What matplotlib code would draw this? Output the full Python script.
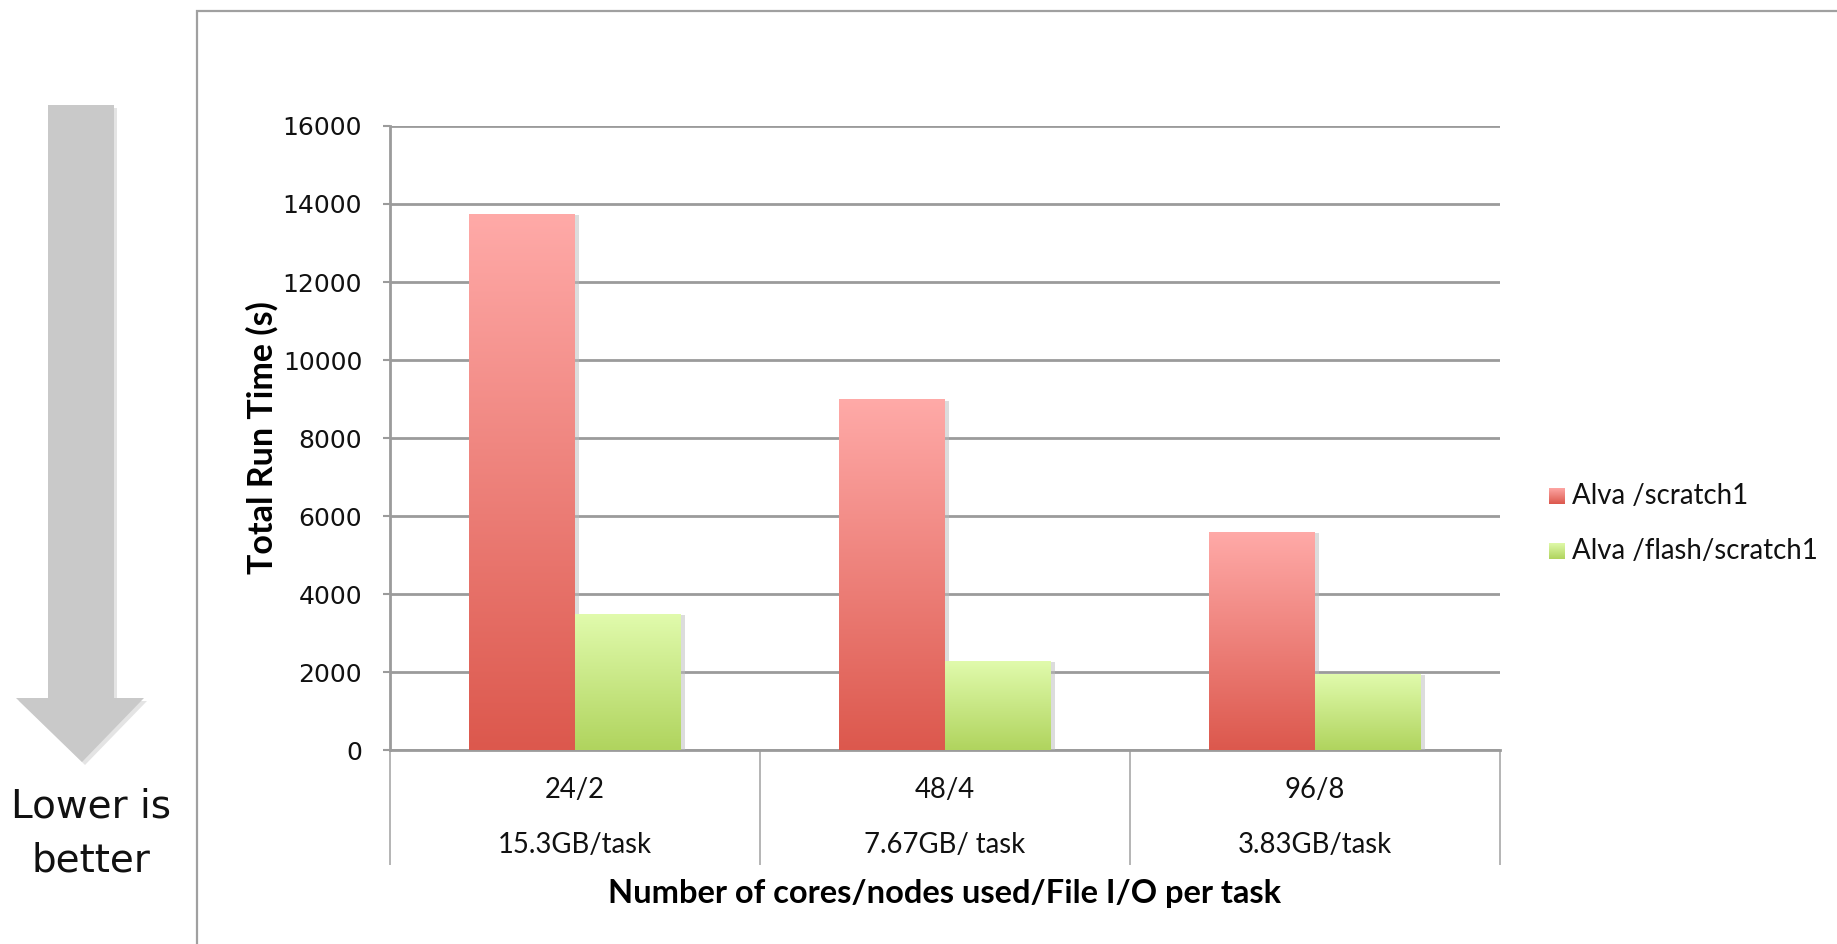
import numpy as np
import matplotlib
matplotlib.use('Agg')
import matplotlib.pyplot as plt
from matplotlib.patches import Polygon, Rectangle
from matplotlib.colors import LinearSegmentedColormap
import matplotlib.patheffects as pe

# run times (s) for the three job layouts
categories = ['24/2', '48/4', '96/8']
io_per_task = ['15.3GB/task', '7.67GB/ task', '3.83GB/task']
series_names = ['Alva /scratch1', 'Alva /flash/scratch1']
scratch_times = [13740, 9000, 5600]
flash_times = [3500, 2300, 1960]
y_ticks = [0, 2000, 4000, 6000, 8000, 10000, 12000, 14000, 16000]

# top / bottom colours of the bar gradients
red_grad = ('#ffaaa8', '#dc584d')
green_grad = ('#e1fbad', '#b0d45e')
grid_grey = '#9b9b9b'

W, H = 1837, 944
fig = plt.figure(figsize=(W / 100., H / 100.), dpi=100)

def fx(px):
    return px / float(W)

def fy(py):
    # pixel rows counted from the top
    return 1. - py / float(H)

# outer chart frame
frame = Rectangle((fx(197), -0.1), 1.0, fy(11) + 0.1, transform=fig.transFigure,
                  fill=False, edgecolor='#a0a0a0', linewidth=1.6, clip_on=False)
fig.add_artist(frame)

# "lower is better" arrow
arrow_pts = [(48, 105), (114, 105), (114, 698), (144, 698), (82, 762),
             (16, 698), (48, 698)]
shadow = Polygon([(fx(x + 3), fy(y + 3)) for x, y in arrow_pts], closed=True,
                 transform=fig.transFigure, facecolor='#e4e4e4', edgecolor='none')
fig.add_artist(shadow)
arrow = Polygon([(fx(x), fy(y)) for x, y in arrow_pts], closed=True,
                transform=fig.transFigure, facecolor='#c9c9c9', edgecolor='none')
fig.add_artist(arrow)
fig.text(fx(91), fy(806), 'Lower is', ha='center', va='center', fontsize=28,
         family='DejaVu Sans', color='#111111')
fig.text(fx(91), fy(861), 'better', ha='center', va='center', fontsize=28,
         family='DejaVu Sans', color='#111111')

ax = fig.add_axes([fx(390), fy(750.4), fx(1500) - fx(390), fy(125.9) - fy(750.4)])
x = np.arange(len(categories))
bw = 1. / 3.5

def gradient_bars(bars, colours):
    cmap = LinearSegmentedColormap.from_list('g', [colours[1], colours[0]])
    grad = np.linspace(0, 1, 256).reshape(-1, 1)
    for b in bars:
        x0, y0 = b.get_x(), b.get_y()
        w, h = b.get_width(), b.get_height()
        im = ax.imshow(grad, cmap=cmap, origin='lower', aspect='auto',
                       extent=(x0, x0 + w, y0, y0 + h), zorder=3)
        im.set_clip_path(b)

r_bars = ax.bar(x - bw / 2, scratch_times, bw, color=red_grad[1], zorder=3,
                label=series_names[0],
                path_effects=[pe.SimplePatchShadow(offset=(3, -1), shadow_rgbFace='#bbbbbb',
                                                   alpha=0.5), pe.Normal()])
g_bars = ax.bar(x + bw / 2, flash_times, bw, color=green_grad[1], zorder=3,
                label=series_names[1],
                path_effects=[pe.SimplePatchShadow(offset=(3, -1), shadow_rgbFace='#bbbbbb',
                                                   alpha=0.5), pe.Normal()])
gradient_bars(r_bars, red_grad)
gradient_bars(g_bars, green_grad)

ax.set_xlim(-0.5, len(categories) - 0.5)
ax.set_ylim(0, 16000)
ax.set_yticks(y_ticks)
ax.set_yticklabels([str(v) for v in y_ticks], fontsize=18, family='DejaVu Sans',
                   color='#111111')
ax.tick_params(axis='y', length=5, width=1.5, color=grid_grey, pad=15)
ax.yaxis.grid(True, color=grid_grey, linewidth=2, zorder=0)
ax.set_axisbelow(True)

for s in ['top', 'right']:
    ax.spines[s].set_visible(False)
for s in ['left', 'bottom']:
    ax.spines[s].set_color(grid_grey)
    ax.spines[s].set_linewidth(2)

# two-level category axis: separators drawn as long minor ticks
ax.set_xticks(x)
ax.set_xticklabels([])
ax.tick_params(axis='x', which='major', length=0)
ax.set_xticks(np.arange(-0.5, len(categories)), minor=True)
ax.tick_params(axis='x', which='minor', length=83, width=1.2, color='#a8a8a8')

trans = ax.get_xaxis_transform()
for i in range(len(categories)):
    ax.text(x[i], -0.064, categories[i], transform=trans, ha='center', va='center',
            fontsize=19.8, family='Lato', color='#111111')
    ax.text(x[i], -0.152, io_per_task[i], transform=trans, ha='center', va='center',
            fontsize=19.8, family='Lato', color='#111111')

fig.text(fx(945), fy(894), 'Number of cores/nodes used/File I/O per task',
         ha='center', va='center', fontsize=23.5, fontweight='bold', family='Lato')
fig.text(fx(262), fy(438), 'Total Run Time (s)', ha='center', va='center',
         rotation=90, fontsize=24.5, fontweight='bold', family='Lato')

# legend
leg_rows = [496, 551]
for name, colours, row in zip(series_names, [red_grad, green_grad], leg_rows):
    cmap = LinearSegmentedColormap.from_list('l', [colours[1], colours[0]])
    lax = fig.add_axes([fx(1549), fy(row + 8), fx(16), fy(row - 8) - fy(row + 8)])
    lax.imshow(np.linspace(0, 1, 64).reshape(-1, 1), cmap=cmap, origin='lower',
               aspect='auto')
    lax.axis('off')
    fig.text(fx(1572), fy(row), name, ha='left', va='center', fontsize=19.9,
             family='Lato', color='#111111')

fig.savefig('out.png', dpi=100)
